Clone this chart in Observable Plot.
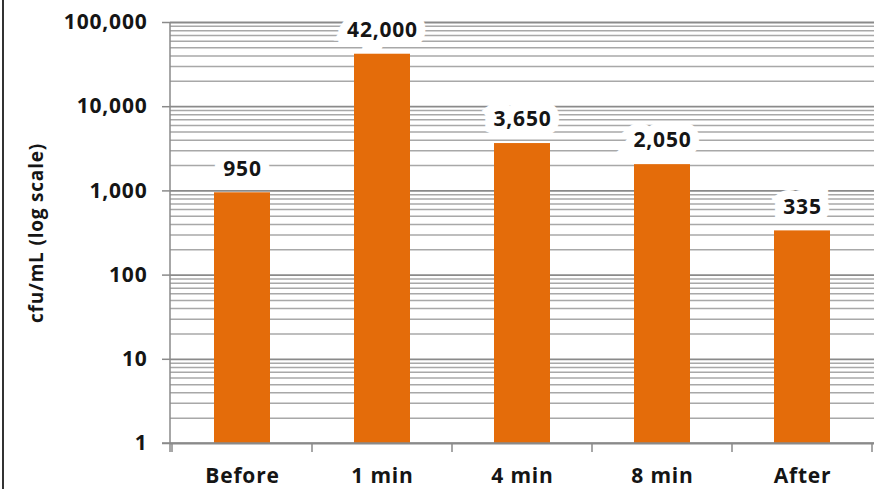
<!DOCTYPE html>
<html>
<head>
<meta charset="utf-8">
<script src="https://cdn.jsdelivr.net/npm/d3@7"></script>
<script src="https://cdn.jsdelivr.net/npm/@observablehq/plot@0.6"></script>
<style>
  html, body { margin: 0; padding: 0; background: #fff; }
  #wrap { position: relative; width: 874px; height: 489px; overflow: hidden; }
  #wrap::before { content: ""; position: absolute; left: 2px; top: 0; bottom: 0; width: 2px; background: #333; z-index: 2; }
  #wrap svg { display: block; }
</style>
</head>
<body>
<div id="wrap"></div>
<script>
// Bacterial counts at each sampling time
const categories = ["Before", "1 min", "4 min", "8 min", "After"];
const counts = [950, 42000, 3650, 2050, 335];

// Decade ticks on the log axis and their labels
const tickValues = [1, 10, 100, 1000, 10000, 100000];
const tickLabels = ["1", "10", "100", "1,000", "10,000", "100,000"];

const yTitle = "cfu/mL (log scale)";

const rows = categories.map((c, i) => ({ cat: c, count: counts[i] }));

// Minor gridlines at 2..9 within each decade
const minorGrid = tickValues.slice(0, -1).flatMap(d => d3.range(2, 10).map(k => k * d));

const fontFamily = "'Open Sans', 'DejaVu Sans', sans-serif";
const axisGray = "#8a8a8a";

const chart = Plot.plot({
  width: 874,
  height: 489,
  marginLeft: 170,
  marginRight: 0,
  marginTop: 22,
  marginBottom: 46,
  style: { fontFamily, fontWeight: 700, fontSize: "21px", color: "#151515", background: "white", letterSpacing: "0.8px" },
  x: { domain: categories, paddingInner: 0.6, paddingOuter: 0.3, label: null },
  y: { type: "log", domain: [1, 100000], label: null },
  marks: [
    Plot.ruleY(minorGrid, { stroke: "#a8a8a8", strokeWidth: 1.5 }),
    Plot.ruleY(tickValues, { stroke: axisGray, strokeWidth: 1.8 }),
    Plot.barY(rows, { x: "cat", y1: 1, y2: "count", fill: "#E46C0A" }),
    Plot.text(rows, {
      x: "cat", y: "count", text: d => d3.format(",")(d.count),
      dy: -24, fill: "#151515", stroke: "white", strokeWidth: 18,
      strokeLinejoin: "miter", fontSize: 21
    }),
    Plot.axisY({
      ticks: tickValues, tickFormat: (d) => tickLabels[tickValues.indexOf(d)],
      tickSize: 8, tickPadding: 15, stroke: axisGray, strokeWidth: 1.5, fill: "#151515", label: null
    }),
    Plot.axisX({ tickSize: 0, tickPadding: 25, fill: "#151515", label: null }),
    Plot.text([yTitle], {
      frameAnchor: "left", textAnchor: "middle", rotate: -90, dx: -134, fontSize: 19, fill: "#151515"
    })
  ]
});

// Axis lines and category boundary ticks
const xs = chart.scale("x");
const ys = chart.scale("y");
const svg = d3.select(chart);
const y0 = ys.apply(1);
const g = svg.append("g").attr("stroke", axisGray).attr("stroke-width", 1.5);
g.append("line").attr("x1", 170).attr("x2", 170).attr("y1", ys.apply(100000)).attr("y2", y0 + 9);
g.append("line").attr("x1", 162).attr("x2", 874).attr("y1", y0).attr("y2", y0);
const bounds = categories.map(c => xs.apply(c) + xs.bandwidth / 2 - xs.step / 2);
bounds.push(bounds[bounds.length - 1] + xs.step);
bounds.forEach(b => g.append("line").attr("x1", b).attr("x2", b).attr("y1", y0).attr("y2", y0 + 9));

document.getElementById("wrap").appendChild(chart);
</script>
</body>
</html>
